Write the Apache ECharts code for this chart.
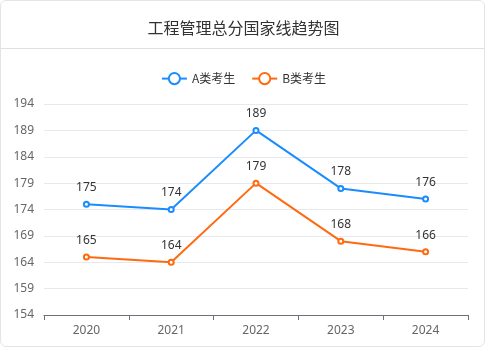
<!DOCTYPE html>
<html><head><meta charset="utf-8">
<script src="https://cdn.jsdelivr.net/npm/echarts@6/dist/echarts.min.js"></script>
<style>
html,body{margin:0;padding:0;background:#fff;}
#card{position:absolute;left:0;top:0;width:485px;height:347px;border:1px solid #e4e4e4;border-radius:6px;box-sizing:border-box;overflow:hidden;}
#c{position:absolute;left:0;top:0;width:485px;height:347px;}
</style></head>
<body>
<div id="card"><div id="c"></div></div>
<script>
const categories = ['2020','2021','2022','2023','2024'];
const seriesA = [175,174,189,178,176];
const seriesB = [165,164,179,168,166];
const yTicks = [154,159,164,169,174,179,184,189,194];

const chart = echarts.init(document.getElementById('c'));
chart.setOption({
  animation:false,
  title:{text:'工程管理总分国家线趋势图',left:'center',top:14,
    textStyle:{fontSize:16,fontWeight:'normal',color:'#333',fontFamily:'Noto Sans CJK SC'}},
  graphic:[{type:'line',shape:{x1:0,y1:47.5,x2:485,y2:47.5},style:{stroke:'#e0e0e0',lineWidth:1}}],
  legend:{top:66,left:'center',itemWidth:25,itemHeight:14,itemGap:16,
    textStyle:{fontSize:12,color:'#333',fontFamily:'Noto Sans CJK SC'},
    data:['A类考生','B类考生']},
  grid:{left:43,right:18,top:103,bottom:33,containLabel:false},
  xAxis:{type:'category',data:categories,boundaryGap:true,
    axisLine:{lineStyle:{color:'#6e7079'}},axisTick:{show:true,lineStyle:{color:'#6e7079'}},
    axisLabel:{color:'#666',fontSize:12,margin:10,fontFamily:'Noto Sans'}},
  yAxis:{type:'value',min:yTicks[0],max:yTicks[yTicks.length-1],interval:5,
    axisLine:{show:false},axisTick:{show:false},
    splitLine:{lineStyle:{color:'#e6e9f0'}},
    axisLabel:{color:'#666',fontSize:12,margin:10,fontFamily:'Noto Sans'}},
  series:[
    {name:'A类考生',type:'line',data:seriesA,symbol:'emptyCircle',symbolSize:5,
     itemStyle:{color:'#1a8cff'},lineStyle:{width:2,color:'#1a8cff'},
     label:{show:true,position:'top',color:'#333',fontSize:12,distance:7,fontFamily:'Noto Sans'}},
    {name:'B类考生',type:'line',data:seriesB,symbol:'emptyCircle',symbolSize:5,
     itemStyle:{color:'#ff6a10'},lineStyle:{width:2,color:'#ff6a10'},
     label:{show:true,position:'top',color:'#333',fontSize:12,distance:7,fontFamily:'Noto Sans'}}
  ]
});
</script>
</body></html>
